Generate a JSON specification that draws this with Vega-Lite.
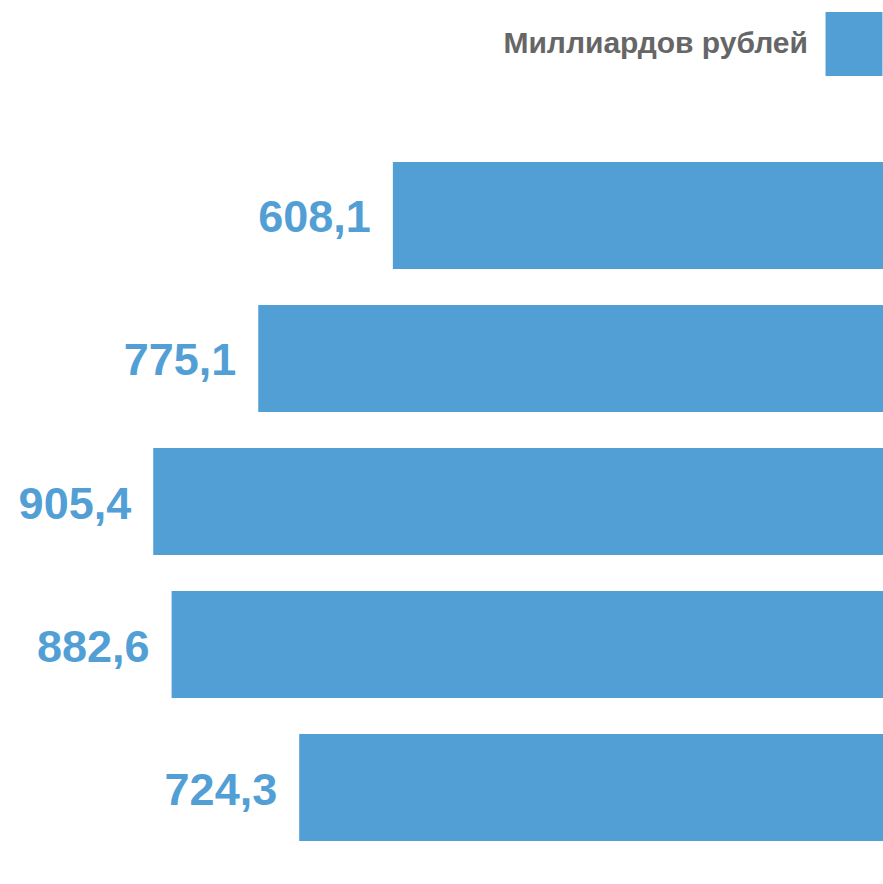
{
  "$schema": "https://vega.github.io/schema/vega-lite/v6.json",
  "width": 883,
  "height": 884,
  "padding": 0,
  "autosize": {"type": "none"},
  "background": "white",
  "config": {"view": {"stroke": null}, "font": "Liberation Sans"},
  "data": {"values": [
    {"cat": "1", "value": 608.1, "label": "608,1", "series": "Миллиардов рублей"},
    {"cat": "2", "value": 775.1, "label": "775,1", "series": "Миллиардов рублей"},
    {"cat": "3", "value": 905.4, "label": "905,4", "series": "Миллиардов рублей"},
    {"cat": "4", "value": 882.6, "label": "882,6", "series": "Миллиардов рублей"},
    {"cat": "5", "value": 724.3, "label": "724,3", "series": "Миллиардов рублей"}
  ]},
  "encoding": {
    "y": {"field": "cat", "type": "nominal", "sort": null, "axis": null,
          "scale": {"range": [162, 841], "paddingInner": 0.252, "paddingOuter": 0}},
    "x": {"field": "value", "type": "quantitative", "axis": null,
          "scale": {"domain": [0, 1095.5], "reverse": true, "nice": false, "zero": true}}
  },
  "layer": [
    {
      "mark": {"type": "bar"},
      "encoding": {
        "color": {"field": "series", "type": "nominal",
          "scale": {"range": ["#529fd6"]},
          "legend": {"orient": "none", "legendX": 822, "legendY": 12, "title": null,
            "symbolType": "M-0.89,-1H0.89V1H-0.89Z", "symbolSize": 4096, "symbolOpacity": 1,
            "symbolStrokeWidth": 0, "labelAlign": "right", "labelOffset": -78,
            "labelFontSize": 30, "labelFont": "Liberation Sans", "labelFontWeight": "bold",
            "labelColor": "#666666", "padding": 0, "labelLimit": 0}}
      }
    },
    {
      "mark": {"type": "text", "align": "right", "baseline": "middle", "dx": -22, "dy": 3,
               "fontSize": 45, "fontWeight": "bold", "color": "#529fd6", "font": "Liberation Sans"},
      "encoding": {"text": {"field": "label"}}
    }
  ]
}
